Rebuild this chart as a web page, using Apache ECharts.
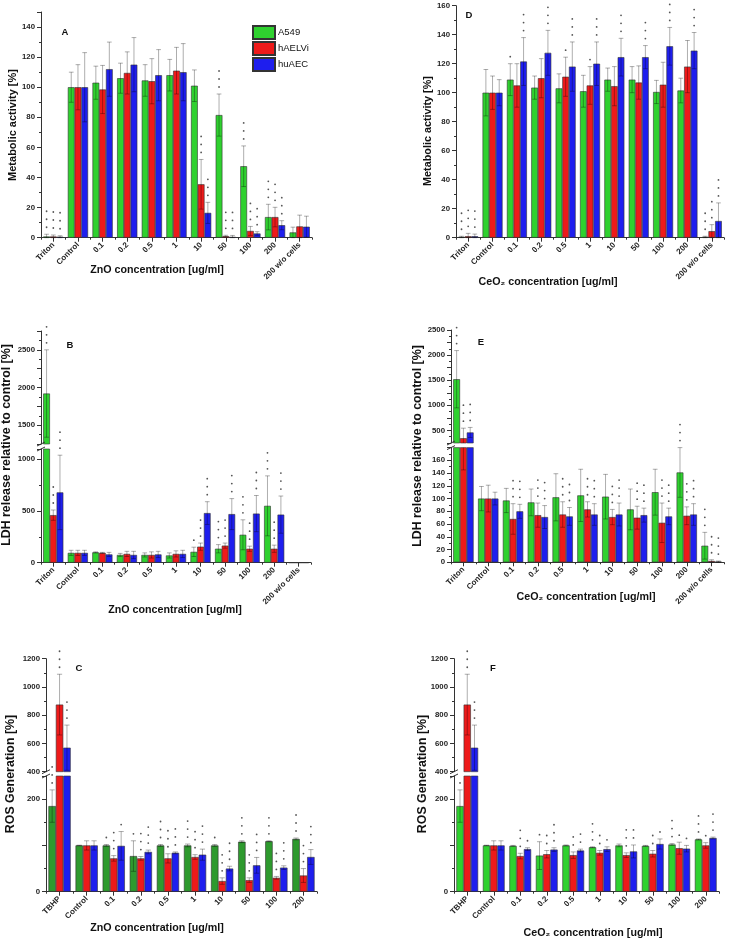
<!DOCTYPE html>
<html><head><meta charset="utf-8">
<script src="https://cdn.jsdelivr.net/npm/echarts@6/dist/echarts.min.js"></script>
<style>html,body{margin:0;padding:0;background:#fff}#c{width:732px;height:944px}</style>
</head><body><div id="c"></div>
<script>
// ---------- categories ----------
const catsCyto = ['Triton','Control','0.1','0.2','0.5','1','10','50','100','200','200 w/o cells'];
const catsROS  = ['TBHP','Control','0.1','0.2','0.5','1','10','50','100','200'];
const seriesNames = ['A549','hAELVi','huAEC'];

// ---------- A: ZnO metabolic activity ----------
const a_A549        = [0.8, 100, 103, 106, 104.5, 108, 101, 81.5, 47.5, 13.7, 3.5];
const a_A549Err     = [1.5, 10, 11, 10, 10.5, 10.5, 10.5, 14, 13.5, 8.5, 3.5];
const a_A549Stars   = [3,0,0,0,0,0,0,3,3,3,0];
const a_hAELVi      = [0.8, 100, 98.5, 109.5, 104, 111, 35.5, 1, 4.5, 13.7, 7.5];
const a_hAELViErr   = [1, 15, 16, 14, 15, 15.5, 16.5, 0.6, 3, 6.5, 7.5];
const a_hAELViStars = [3,0,0,0,0,0,3,3,3,3,0];
const a_huAEC       = [0.6, 100, 112, 115, 108, 110, 16.5, 0.5, 2.8, 8.3, 7.3];
const a_huAECErr    = [0.7, 23, 18, 18, 17, 19, 7, 1, 1.2, 3, 7];
const a_huAECStars  = [3,0,0,0,0,0,3,3,3,3,0];

// ---------- D: CeO2 metabolic activity ----------
const d_A549        = [0.5, 100, 109, 103.5, 103, 101, 109, 109, 100.5, 101.5, 0.5];
const d_A549Err     = [0.5, 16, 11, 8, 10, 11, 8, 9, 8, 8.5, 0.5];
const d_A549Stars   = [3,0,1,0,0,0,0,0,0,0,3];
const d_hAELVi      = [1, 100, 105, 110, 111, 105, 104.5, 107, 105.5, 118, 4.5];
const d_hAELViErr   = [2, 11.5, 15, 13.5, 13.5, 13, 13.5, 11.5, 15.5, 18, 4.5];
const d_hAELViStars = [3,0,0,0,1,1,0,0,0,0,3];
const d_huAEC       = [1, 100, 121.5, 127.5, 118, 120, 124.5, 124.5, 132, 129, 11.5];
const d_huAECErr    = [1.5, 9, 16.5, 15.5, 17, 15, 13, 8, 13, 12.5, 12.5];
const d_huAECStars  = [3,0,3,3,3,3,3,3,3,3,3];

// ---------- B: ZnO LDH release ----------
const b_A549        = [1920, 95, 100, 75, 75, 70, 105, 135, 270, 550, 0];
const b_A549Err     = [580, 25, 5, 15, 20, 25, 45, 40, 145, 290, 0];
const b_A549Stars   = [3,0,0,0,0,0,1,3,3,3,0];
const b_hAELVi      = [460, 95, 95, 85, 75, 85, 155, 165, 135, 135, 0];
const b_hAELViErr   = [50, 25, 5, 25, 30, 30, 35, 25, 25, 35, 0];
const b_hAELViStars = [3,0,0,0,0,0,3,3,3,3,0];
const b_huAEC       = [680, 95, 80, 75, 80, 85, 480, 470, 475, 465, 0];
const b_huAECErr    = [360, 25, 20, 35, 30, 35, 110, 150, 175, 180, 0];
const b_huAECStars  = [3,0,0,0,0,0,3,3,3,3,0];

// ---------- E: CeO2 LDH release ----------
const e_A549        = [1520, 100, 97, 94, 102, 105, 103, 83, 110, 141, 26];
const e_A549Err     = [570, 19, 19, 21, 37, 41, 35, 32, 36, 39, 21];
const e_A549Stars   = [3,0,0,0,0,0,0,0,0,3,3];
const e_hAELVi      = [345, 100, 68, 74, 75, 83, 71, 70, 62, 73, 2];
const e_hAELViErr   = [200, 21, 24, 19, 20, 12, 12, 18, 31, 14, 2];
const e_hAELViStars = [3,0,3,3,3,3,3,3,3,3,3];
const e_huAEC       = [460, 100, 80, 71, 72, 75, 75, 74, 72, 75, 1];
const e_huAECErr    = [100, 10, 11, 18, 14, 17, 18, 11, 13, 17, 1];
const e_huAECStars  = [3,0,3,3,3,3,3,3,3,3,3];

// ---------- C: ZnO ROS ----------
const c_A549        = [185, 100, 100, 77, 100, 100, 100, 108, 109, 114];
const c_A549Err     = [35, 0.5, 2, 33, 2, 3, 2, 2, 1, 2];
const c_A549Stars   = [3,0,1,1,3,3,1,3,3,3];
const c_hAELVi      = [875, 100, 72, 72, 72, 75, 23, 25, 30, 35];
const c_hAELViErr   = [215, 10, 6, 4, 10, 5, 7, 5, 3, 15];
const c_hAELViStars = [3,0,3,3,3,3,3,3,3,3];
const c_huAEC       = [570, 100, 99, 86, 84, 80, 50, 57, 52, 75];
const c_huAECErr    = [160, 10, 31, 4, 2, 12, 5, 17, 4, 16];
const c_huAECStars  = [3,0,1,3,3,3,3,3,3,3];

// ---------- F: CeO2 ROS ----------
const f_A549        = [185, 100, 99, 78, 100, 96, 100, 99, 102, 113];
const f_A549Err     = [35, 0.5, 1, 30, 1, 1, 3, 1, 2, 1];
const f_A549Stars   = [1,0,0,1,0,3,0,0,3,3];
const f_hAELVi      = [875, 100, 77, 81, 79, 84, 79, 82, 94, 100];
const f_hAELViErr   = [215, 10, 6, 8, 7, 5, 5, 7, 13, 6];
const f_hAELViStars = [3,0,3,2,2,2,3,2,1,1];
const f_huAEC       = [570, 100, 92, 91, 89, 92, 87, 103, 93, 116];
const f_huAECErr    = [160, 10, 3, 4, 3, 5, 14, 11, 7, 2];
const f_huAECStars  = [3,0,1,3,2,1,2,1,1,3];

// ---------- styling ----------
const GREEN = '#2fd12f', DGREEN = '#2e9a2e', RED = '#ee1a1a', BLUE = '#1e1eee';
const FF = '"Liberation Sans", Arial, sans-serif';
const GAPFRAC = 0.18;

const option = {
  animation: false,
  backgroundColor: '#fff',
  grid: [], xAxis: [], yAxis: [], series: [], graphic: [],
  legend: {
    data: seriesNames, orient: 'vertical', left: 247, top: 20,
    itemWidth: 22, itemHeight: 13, itemGap: 1, icon: 'rect',
    textStyle: {fontSize: 9.5, fontFamily: FF, color: '#111', padding: [0,0,0,-2]},
    selectedMode: false
  }
};

function errRenderer(k, yMin, yMax) {
  return function (params, api) {
    const i = api.value(0), v = api.value(1), e = api.value(2), n = api.value(3);
    const cs = params.coordSys;
    const catW = api.size([1, 0])[0];
    const bw = catW * (1 - GAPFRAC) / 3;
    const cx = api.coord([i, 0])[0] + (k - 1) * bw;
    const top = v + e, bot = Math.max(0, v - e);
    const gTop = cs.y, gBot = cs.y + cs.height;
    const py = val => api.coord([i, val])[1];
    const clampY = y => Math.min(Math.max(y, gTop), gBot);
    const ch = [];
    const capW = bw * 0.35;
    const lineStyle = {stroke: 'rgba(0,0,0,0.32)', lineWidth: 1};
    if (e > 0 && top > yMin) {
      const y1 = clampY(py(top)), y2 = clampY(py(bot));
      ch.push({type: 'line', shape: {x1: cx, y1: y1, x2: cx, y2: y2}, style: lineStyle});
      if (top <= yMax) ch.push({type: 'line', shape: {x1: cx - capW, y1: py(top), x2: cx + capW, y2: py(top)}, style: lineStyle});
      if (bot >= yMin && bot <= yMax) ch.push({type: 'line', shape: {x1: cx - capW, y1: py(bot), x2: cx + capW, y2: py(bot)}, style: lineStyle});
    }
    if (n > 0 && top >= yMin && top <= yMax) {
      const y0 = py(top);
      for (let s = 0; s < n; s++) {
        ch.push({type: 'circle', shape: {cx: cx, cy: y0 - 7 - 8 * s, r: 0.9}, style: {fill: '#555'}});
      }
    }
    return {type: 'group', children: ch};
  };
}

function addGrid(box, cats, y, showX) {
  const gi = option.grid.length;
  option.grid.push({left: box.l, top: box.t, width: box.r - box.l, height: box.b - box.t, containLabel: false, outerBoundsMode: 'none'});
  option.xAxis.push({
    type: 'category', gridIndex: gi, data: cats, show: showX, position: 'bottom',
    axisLine: {show: true, lineStyle: {color: '#333', width: 1}},
    axisTick: {show: true, alignWithLabel: true, length: 4, lineStyle: {color: '#333'}},
    axisLabel: {interval: 0, rotate: 45, fontSize: 8, fontWeight: 'bold', color: '#222', fontFamily: FF, margin: 6},
    splitLine: {show: false}
  });
  const xi = option.xAxis.length - 1;
  if (showX) {
    // minor ticks at the category boundaries
    option.xAxis.push({
      type: 'category', gridIndex: gi, data: cats, position: 'bottom', offset: 0,
      axisLine: {show: false}, axisLabel: {show: false}, splitLine: {show: false},
      axisTick: {show: true, alignWithLabel: false, interval: 0, length: 2, lineStyle: {color: '#333'}}
    });
  }
  option.yAxis.push({
    type: 'value', gridIndex: gi, min: y.min, max: y.max, interval: y.interval,
    axisLine: {show: true, lineStyle: {color: '#333', width: 1}},
    axisTick: {show: true, length: 4, lineStyle: {color: '#333'}},
    minorTick: {show: true, splitNumber: 2, length: 2, lineStyle: {color: '#333'}},
    splitLine: {show: false}, minorSplitLine: {show: false},
    axisLabel: {fontSize: 7.8, fontWeight: 'bold', color: '#222', fontFamily: FF, margin: 6,
      formatter: v => (y.lab(v) ? String(v) : '')}
  });
  return {xi: xi, yi: option.yAxis.length - 1};
}

function addPanel(p) {
  p.grids.forEach(g => {
    const ax = addGrid(g.box, p.cats, g.y, g.showX);
    p.data.forEach((d, k) => {
      option.series.push({
        type: 'bar', name: seriesNames[k], xAxisIndex: ax.xi, yAxisIndex: ax.yi, data: d[0],
        barGap: '0%', barCategoryGap: (GAPFRAC * 100) + '%', clip: true,
        itemStyle: {color: p.colors[k], borderColor: '#333', borderWidth: 0.6}
      });
    });
    p.data.forEach((d, k) => {
      option.series.push({
        type: 'custom', xAxisIndex: ax.xi, yAxisIndex: ax.yi, clip: false, silent: true, z: 5,
        data: d[0].map((v, i) => [i, v, d[1][i], d[2][i]]),
        encode: {x: 0, y: 1},
        renderItem: errRenderer(k, g.y.min, g.y.max)
      });
    });
  });
  if (p.grids.length === 2) {
    const ax = p.grids[0].box.l, yu = p.grids[0].box.b, yl = p.grids[1].box.t;
    [yu, yl].forEach(yy => option.graphic.push({
      type: 'line', silent: true, z: 10,
      shape: {x1: ax - 4, y1: yy + 2, x2: ax + 4, y2: yy - 2}, style: {stroke: '#333', lineWidth: 1}
    }));
  }
  // axis titles and panel letter
  option.graphic.push({type: 'text', silent: true, x: p.xName[0], y: p.xName[1],
    style: {text: p.xName[2], font: 'bold 10.7px ' + FF, fill: '#111', align: 'center', verticalAlign: 'middle'}});
  option.graphic.push({type: 'text', silent: true, x: p.yName[0], y: p.yName[1], rotation: Math.PI / 2,
    style: {text: p.yName[2], font: 'bold ' + p.yName[3] + 'px ' + FF, fill: '#111', align: 'center', verticalAlign: 'middle'}});
  option.graphic.push({type: 'text', silent: true, x: p.letter[0], y: p.letter[1],
    style: {text: p.letter[2], font: 'bold 9.5px ' + FF, fill: '#111', align: 'center', verticalAlign: 'middle'}});
}

const mult = m => (v => Math.abs(v % m) < 1e-6);

addPanel({ // A
  cats: catsCyto, colors: [GREEN, RED, BLUE],
  data: [[a_A549, a_A549Err, a_A549Stars], [a_hAELVi, a_hAELViErr, a_hAELViStars], [a_huAEC, a_huAECErr, a_huAECStars]],
  grids: [{box: {l: 41, r: 312, t: 12, b: 237.7}, showX: true, y: {min: 0, max: 150, interval: 20, lab: v => v <= 140}}],
  xName: [157, 270, 'ZnO concentration [ug/ml]'], yName: [13, 125, 'Metabolic activity [%]', 11], letter: [65, 32, 'A']
});
addPanel({ // D
  cats: catsCyto, colors: [GREEN, RED, BLUE],
  data: [[d_A549, d_A549Err, d_A549Stars], [d_hAELVi, d_hAELViErr, d_hAELViStars], [d_huAEC, d_huAECErr, d_huAECStars]],
  grids: [{box: {l: 456, r: 724, t: 5.7, b: 237.7}, showX: true, y: {min: 0, max: 160, interval: 20, lab: v => true}}],
  xName: [548, 282, 'CeO₂ concentration [ug/ml]'], yName: [428, 131, 'Metabolic activity [%]', 10.8], letter: [469, 15, 'D']
});
addPanel({ // B
  cats: catsCyto, colors: [GREEN, RED, BLUE],
  data: [[b_A549, b_A549Err, b_A549Stars], [b_hAELVi, b_hAELViErr, b_hAELViStars], [b_huAEC, b_huAECErr, b_huAECStars]],
  grids: [
    {box: {l: 41, r: 311, t: 331, b: 444}, showX: false, y: {min: 1250, max: 2750, interval: 250, lab: mult(500)}},
    {box: {l: 41, r: 311, t: 449, b: 562.7}, showX: true, y: {min: 0, max: 1100, interval: 500, lab: v => v <= 1000}}
  ],
  xName: [175, 610, 'ZnO concentration [ug/ml]'], yName: [7, 445, 'LDH release relative to control [%]', 12.4], letter: [70, 345, 'B']
});
addPanel({ // E
  cats: catsCyto, colors: [GREEN, RED, BLUE],
  data: [[e_A549, e_A549Err, e_A549Stars], [e_hAELVi, e_hAELViErr, e_hAELViStars], [e_huAEC, e_huAECErr, e_huAECStars]],
  grids: [
    {box: {l: 451, r: 724, t: 330, b: 443}, showX: false, y: {min: 250, max: 2500, interval: 250, lab: mult(500)}},
    {box: {l: 451, r: 724, t: 447.6, b: 562.3}, showX: true, y: {min: 0, max: 180, interval: 20, lab: v => v <= 160}}
  ],
  xName: [586, 597, 'CeO₂ concentration [ug/ml]'], yName: [418, 446, 'LDH release relative to control [%]', 12.4], letter: [481, 342, 'E']
});
addPanel({ // C
  cats: catsROS, colors: [DGREEN, RED, BLUE],
  data: [[c_A549, c_A549Err, c_A549Stars], [c_hAELVi, c_hAELViErr, c_hAELViStars], [c_huAEC, c_huAECErr, c_huAECStars]],
  grids: [
    {box: {l: 46, r: 317, t: 658.7, b: 771.7}, showX: false, y: {min: 400, max: 1200, interval: 200, lab: v => true}},
    {box: {l: 46, r: 317, t: 776, b: 891.7}, showX: true, y: {min: 0, max: 250, interval: 100, lab: mult(200)}}
  ],
  xName: [157, 928, 'ZnO concentration [ug/ml]'], yName: [11, 774, 'ROS Generation [%]', 12.4], letter: [79, 668, 'C']
});
addPanel({ // F
  cats: catsROS, colors: [GREEN, RED, BLUE],
  data: [[f_A549, f_A549Err, f_A549Stars], [f_hAELVi, f_hAELViErr, f_hAELViStars], [f_huAEC, f_huAECErr, f_huAECStars]],
  grids: [
    {box: {l: 454, r: 719, t: 658.7, b: 771.7}, showX: false, y: {min: 400, max: 1200, interval: 200, lab: v => true}},
    {box: {l: 454, r: 719, t: 776, b: 891.7}, showX: true, y: {min: 0, max: 250, interval: 100, lab: mult(200)}}
  ],
  xName: [593, 933, 'CeO₂ concentration [ug/ml]'], yName: [423, 774, 'ROS Generation [%]', 12.4], letter: [493, 668, 'F']
});

const chart = echarts.init(document.getElementById('c'), null, {renderer: 'canvas'});
chart.setOption(option);
</script>
</body></html>
